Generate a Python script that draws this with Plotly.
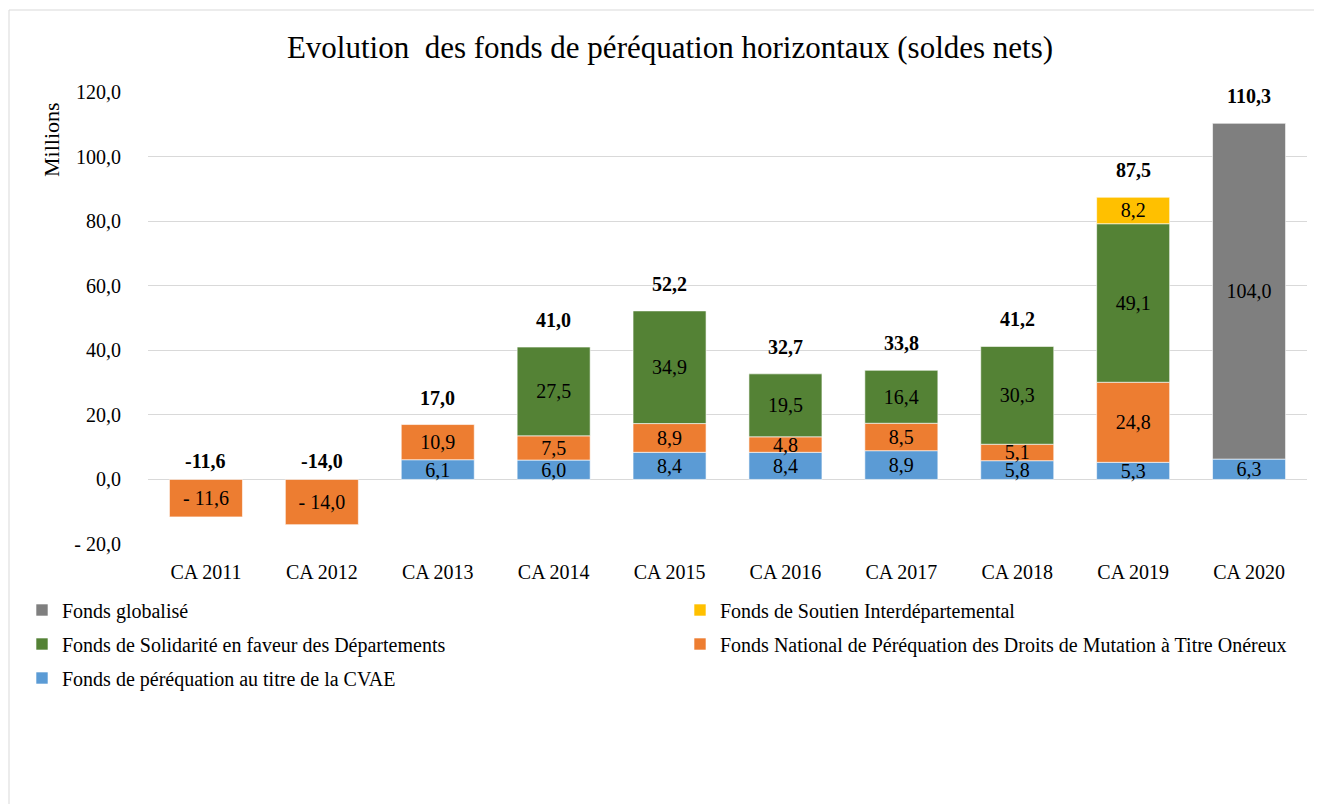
import plotly.graph_objects as go

categories = ["CA 2011", "CA 2012", "CA 2013", "CA 2014", "CA 2015",
              "CA 2016", "CA 2017", "CA 2018", "CA 2019", "CA 2020"]

cvae = [None, None, 6.1, 6.0, 8.4, 8.4, 8.9, 5.8, 5.3, 6.3]
dmto = [-11.6, -14.0, 10.9, 7.5, 8.9, 4.8, 8.5, 5.1, 24.8, None]
fsd = [None, None, None, 27.5, 34.9, 19.5, 16.4, 30.3, 49.1, None]
fsid = [None, None, None, None, None, None, None, None, 8.2, None]
globalise = [None, None, None, None, None, None, None, None, None, 104.0]
totals = [-11.6, -14.0, 17.0, 41.0, 52.2, 32.7, 33.8, 41.2, 87.5, 110.3]

y_tickvals = [-20, 0, 20, 40, 60, 80, 100, 120]
y_ticktext = ["- 20,0", "0,0", "20,0", "40,0", "60,0", "80,0", "100,0", "120,0"]

series = [
    ("Fonds de péréquation au titre de la CVAE", cvae, "#5B9BD5"),
    ("Fonds National de Péréquation des Droits de Mutation à Titre Onéreux", dmto, "#ED7D31"),
    ("Fonds de Solidarité en faveur des Départements", fsd, "#548235"),
    ("Fonds de Soutien Interdépartemental", fsid, "#FFC000"),
    ("Fonds globalisé", globalise, "#7F7F7F"),
]

FONT = "Liberation Serif, Times New Roman, serif"


def fmt(v):
    if v is None:
        return ""
    s = f"{abs(v):.1f}".replace(".", ",")
    return ("- " + s) if v < 0 else s


# page offset (browser body margin) and layout geometry in screenshot pixels
O = 8
W, H = 1322 - 2 * O, 812 - 2 * O
PX0, PX1, PY0, PY1 = 148, 1307, 92, 544   # plot area in screenshot px
L, T = PX0 - O, PY0 - O
PW, PH = PX1 - PX0, PY1 - PY0
R, B = W - L - PW, H - T - PH


def px_x(p):
    return (p - PX0) / PW


def px_y(p):
    return (PY1 - p) / PH


legend_pos = {
    "Fonds globalisé": (22, 610),
    "Fonds de Soutien Interdépartemental": (680, 610),
    "Fonds de Solidarité en faveur des Départements": (22, 644),
    "Fonds National de Péréquation des Droits de Mutation à Titre Onéreux": (680, 644),
    "Fonds de péréquation au titre de la CVAE": (22, 678),
}

fig = go.Figure()
layout_legends = {}
for i, (name, vals, color) in enumerate(series):
    lname = "legend" if i == 0 else f"legend{i + 1}"
    fig.add_trace(go.Bar(
        name=name,
        x=categories,
        y=vals,
        marker=dict(color=color, line=dict(color="rgba(255,255,255,0.6)", width=1)),
        text=[fmt(v) for v in vals],
        textposition="inside",
        insidetextanchor="middle",
        constraintext="none",
        textfont=dict(family=FONT, size=20, color="#000000"),
        hoverinfo="x+y+name",
        legend=lname,
        showlegend=True,
    ))
    lx, ly = legend_pos[name]
    layout_legends[lname] = dict(
        x=px_x(lx), y=px_y(ly), xanchor="left", yanchor="middle",
        font=dict(family=FONT, size=20, color="#000000"),
        bgcolor="rgba(0,0,0,0)", borderwidth=0,
        itemwidth=30, visible=True,
    )

annotations = []
for c, t in zip(categories, totals):
    annotations.append(dict(
        x=c, y=max(t, 0), xref="x", yref="y",
        text="<b>" + fmt(t).replace("- ", "-") + "</b>",
        showarrow=False, yanchor="middle",
        yshift=27 if t > 0 else 18,
        font=dict(family=FONT, size=20, color="#000000"),
    ))

annotations.append(dict(
    x=px_x(51), y=px_y(139), xref="paper", yref="paper",
    text="Millions", textangle=-90, showarrow=False,
    xanchor="center", yanchor="middle",
    font=dict(family=FONT, size=22, color="#000000"),
))

fig.update_layout(
    width=W, height=H,
    margin=dict(l=L, r=R, t=T, b=B, autoexpand=False),
    paper_bgcolor="#FFFFFF",
    plot_bgcolor="#FFFFFF",
    showlegend=True,
    barmode="relative",
    bargap=0.37,
    title=dict(
        text="Evolution  des fonds de péréquation horizontaux (soldes nets)",
        x=px_x(670), xanchor="center", xref="paper",
        y=1 - (47 - O) / H, yanchor="middle",
        font=dict(family=FONT, size=31, color="#000000"),
    ),
    xaxis=dict(
        tickfont=dict(family=FONT, size=20, color="#000000"),
        showgrid=False, showline=False, ticks="",
        ticklabelstandoff=14,
    ),
    yaxis=dict(
        range=[-20, 120],
        tickvals=y_tickvals, ticktext=y_ticktext,
        tickfont=dict(family=FONT, size=20, color="#000000"),
        showgrid=True, gridcolor="#D9D9D9", gridwidth=1,
        zeroline=True, zerolinecolor="#D9D9D9", zerolinewidth=1,
        showline=False, ticks="",
        ticklabelstandoff=26,
    ),
    annotations=annotations,
    shapes=[dict(
        type="rect", xref="paper", yref="paper",
        x0=px_x(9), x1=px_x(1340), y0=px_y(840), y1=px_y(10),
        line=dict(color="#D9D9D9", width=1), fillcolor="rgba(0,0,0,0)",
        layer="below",
    )],
    **layout_legends,
)

fig.write_html("out.html")
